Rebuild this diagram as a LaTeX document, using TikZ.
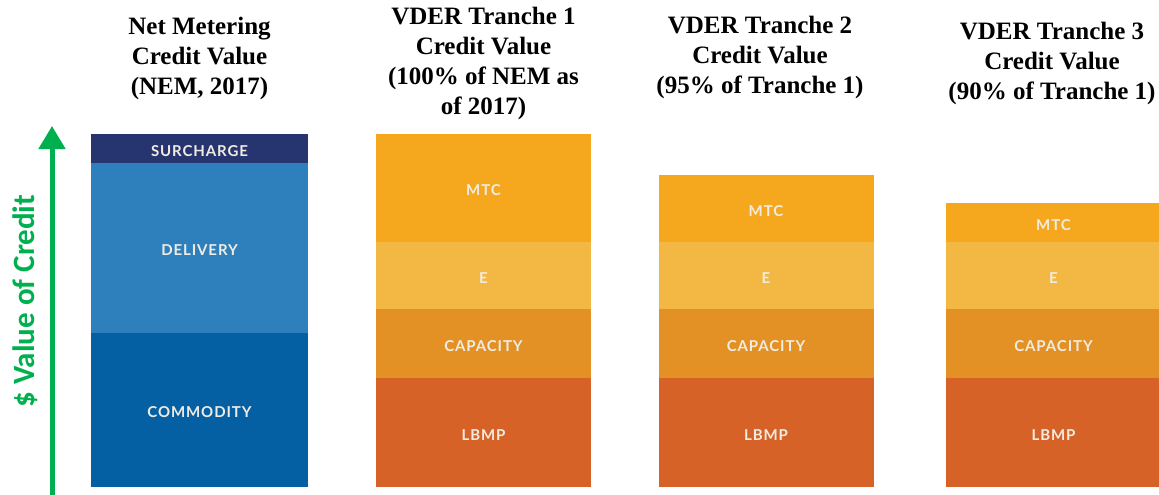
\documentclass[tikz,border=0pt]{standalone}
\usepackage{fontspec}
\usepackage{tikz}
\usetikzlibrary{arrows.meta,positioning}
\newfontfamily\headfont{Liberation Serif}
\newfontfamily\segfont[LetterSpace=6]{Lato}
\newfontfamily\axisfont{Carlito}
\definecolor{surchargeC}{HTML}{263570}
\definecolor{deliveryC}{HTML}{2E80BD}
\definecolor{commodityC}{HTML}{0560A3}
\definecolor{mtcC}{HTML}{F5A81E}
\definecolor{eC}{HTML}{F3B843}
\definecolor{capacityC}{HTML}{E39024}
\definecolor{lbmpC}{HTML}{D66228}
\definecolor{labelC}{HTML}{F1ECE2}
\definecolor{axisC}{HTML}{00B04F}
\tikzset{
	seg/.style={
		rectangle,
		inner sep=0pt,
		outer sep=0pt,
		minimum width=215pt,
		text height=15pt,
		text depth=0pt,
		text=labelC,
		font=\segfont\bfseries\fontsize{15}{16}\selectfont
	},
	heading/.style={
		align=center,
		inner sep=0pt,
		font=\headfont\bfseries\fontsize{25}{30}\selectfont
	},
	valuearrow/.style={
		draw=axisC,
		line width=5pt,
		-{Triangle[width=26pt,length=23pt]}
	}
}

\begin{document}
\begin{tikzpicture}[x=1pt,y=-1pt]
		\useasboundingbox (0,0) rectangle (1159,495);
		% net metering bar
		\node [seg,fill=commodityC,minimum width=217pt,minimum height=154pt] (b1com) at (199.5,410) {COMMODITY};
		\node [seg,fill=deliveryC,minimum width=217pt,minimum height=170pt] (b1del) [above=0pt of b1com] {DELIVERY};
		\node [seg,fill=surchargeC,minimum width=217pt,minimum height=29pt] (b1sur) [above=0pt of b1del] {SURCHARGE};
		% tranche 1
		\node [seg,fill=lbmpC,minimum height=109pt] (b2lbmp) at (483.5,432.5) {LBMP};
		\node [seg,fill=capacityC,minimum height=69pt] (b2cap) [above=0pt of b2lbmp] {CAPACITY};
		\node [seg,fill=eC,minimum height=67pt] (b2e) [above=0pt of b2cap] {E};
		\node [seg,fill=mtcC,minimum height=108pt] (b2mtc) [above=0pt of b2e] {MTC};
		% tranche 2
		\node [seg,fill=lbmpC,minimum height=109pt] (b3lbmp) at (766,432.5) {LBMP};
		\node [seg,fill=capacityC,minimum height=69pt] (b3cap) [above=0pt of b3lbmp] {CAPACITY};
		\node [seg,fill=eC,minimum height=67pt] (b3e) [above=0pt of b3cap] {E};
		\node [seg,fill=mtcC,minimum height=67pt] (b3mtc) [above=0pt of b3e] {MTC};
		% tranche 3
		\node [seg,fill=lbmpC,minimum height=109pt] (b4lbmp) at (1053.5,432.5) {LBMP};
		\node [seg,fill=capacityC,minimum height=69pt] (b4cap) [above=0pt of b4lbmp] {CAPACITY};
		\node [seg,fill=eC,minimum height=67pt] (b4e) [above=0pt of b4cap] {E};
		\node [seg,fill=mtcC,minimum height=39pt] (b4mtc) [above=0pt of b4e] {MTC};
		% headings
		\node [heading] (h1) at (199.5,58) {Net Metering\\Credit Value\\(NEM, 2017)};
		\node [heading] (h2) at (483.5,63) {VDER Tranche 1\\Credit Value\\(100\% of NEM as\\of 2017)};
		\node [heading] (h3) at (760,57) {VDER Tranche 2\\Credit Value\\(95\% of Tranche 1)};
		\node [heading] (h4) at (1052,63) {VDER Tranche 3\\Credit Value\\(90\% of Tranche 1)};
		% value axis
		\coordinate (axisfoot) at (52,497);
		\coordinate (axishead) at (52,126);
		\draw [valuearrow] (axisfoot) -- (axishead);
		\node [rotate=90,text=axisC,font=\axisfont\bfseries\fontsize{31}{34}\selectfont] (axislabel) at (25,301) {\$ Value of Credit};
		\end{tikzpicture}
\end{document}
